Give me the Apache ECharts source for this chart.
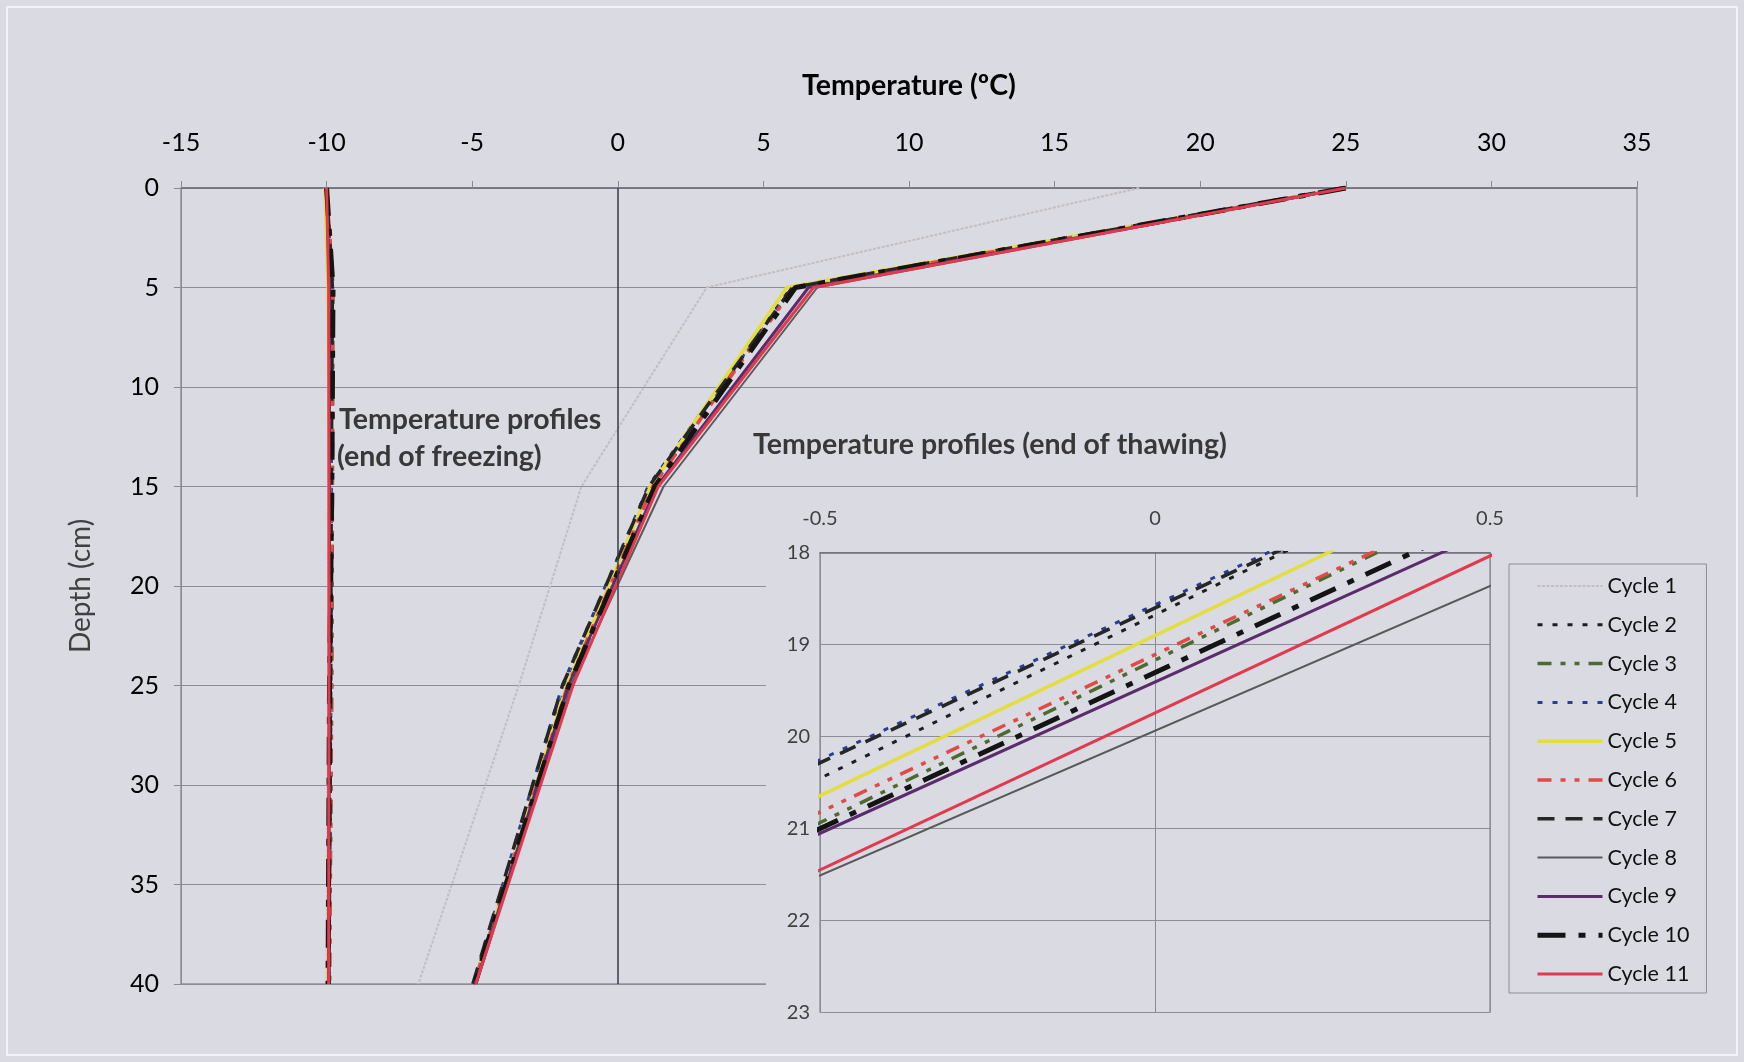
<!DOCTYPE html>
<html>
<head>
<meta charset="utf-8">
<script src="https://cdn.jsdelivr.net/npm/echarts@6/dist/echarts.min.js"></script>
<style>
  html, body { margin: 0; padding: 0; background: #dadae3; }
  #chart { width: 1744px; height: 1062px; }
</style>
</head>
<body>
<div id="chart"></div>
<script>
// Sensor depths (cm) shared by every profile
const depths = [0, 5, 15, 25, 40];

const cycleNames = ['Cycle 1', 'Cycle 2', 'Cycle 3', 'Cycle 4', 'Cycle 5', 'Cycle 6',
                    'Cycle 7', 'Cycle 8', 'Cycle 9', 'Cycle 10', 'Cycle 11'];

// Temperature (ºC) at each depth, end of thawing
const thaw1  = [17.9, 3.05, -1.25, -3.40, -6.85];
const thaw2  = [25.0, 5.95, 1.036, -1.78, -4.95];
const thaw3  = [25.0, 6.00, 1.18, -1.65, -4.95];
const thaw4  = [25.0, 6.00, 1.06, -1.91, -4.97];
const thaw5  = [25.0, 5.80, 1.12, -1.75, -4.93];
const thaw6  = [25.0, 6.05, 1.20, -1.72, -4.93];
const thaw7  = [24.9, 6.00, 1.07, -1.90, -4.98];
const thaw8  = [25.0, 6.85, 1.57, -1.61, -4.85];
const thaw9  = [25.0, 6.55, 1.34, -1.70, -4.88];
const thaw10 = [25.0, 6.10, 1.27, -1.68, -4.92];
const thaw11 = [25.0, 6.72, 1.39, -1.54, -4.88];

// Temperature (ºC) at each depth, end of freezing
const freeze1  = [-10.00, -9.95, -9.95, -9.95, -10.00];
const freeze2  = [-10.00, -9.82, -9.85, -9.85, -9.92];
const freeze3  = [-10.00, -9.78, -9.80, -9.82, -9.90];
const freeze4  = [-10.00, -9.83, -9.84, -9.86, -9.93];
const freeze5  = [-10.05, -9.95, -9.90, -9.90, -9.95];
const freeze6  = [-10.00, -9.80, -9.82, -9.84, -9.90];
const freeze7  = [-10.00, -9.80, -9.84, -9.86, -9.92];
const freeze8  = [-10.00, -9.92, -9.92, -9.92, -9.95];
const freeze9  = [-10.00, -9.90, -9.90, -9.90, -9.93];
const freeze10 = [-10.00, -9.78, -9.82, -9.90, -9.95];
const freeze11 = [-10.00, -9.93, -9.92, -9.92, -9.93];

// Axis ranges and steps
const tempTicks = [-15, 35, 5];
const depthTicks = [0, 40, 5];
const zoomTempTicks = [-0.5, 0.5, 0.5];
const zoomDepthTicks = [18, 23, 1];

const thawProfiles = [thaw1, thaw2, thaw3, thaw4, thaw5, thaw6, thaw7, thaw8, thaw9, thaw10, thaw11];
const freezeProfiles = [freeze1, freeze2, freeze3, freeze4, freeze5, freeze6, freeze7, freeze8, freeze9, freeze10, freeze11];

// Line appearance per cycle
const cycleColors = ['#c4bebe', '#1e1e1e', '#4d6a30', '#2a3d94', '#e4dd3e', '#e24a48',
                     '#262626', '#5a5a5a', '#5c2b6c', '#141414', '#e13a4e'];
const cycleWidths = [2, 3, 3.5, 3, 3.5, 3.5, 3.5, 2, 3, 5, 3];
const cycleDashes = [[3, 1.5], [5, 10], [14, 9, 5, 9, 5, 9], [5, 10], 'solid',
                     [14, 9, 5, 9, 5, 9], [17, 11], 'solid', 'solid', [28, 13, 7, 13], 'solid'];

const BG = '#dadae3';
const FONT = 'Lato, "Open Sans", sans-serif';

const toPoints = (temps) => temps.map((t, i) => [t, depths[i]]);

const series = [];
cycleNames.forEach((name, i) => {
  const style = { color: cycleColors[i], width: cycleWidths[i], type: cycleDashes[i] };
  const base = {
    name, type: 'line', symbol: 'none', showSymbol: false, silent: true,
    color: cycleColors[i], lineStyle: style, z: 2 + i * 0.01
  };
  series.push(Object.assign({}, base, { xAxisIndex: 0, yAxisIndex: 0, data: toPoints(freezeProfiles[i]) }));
  const thaw = Object.assign({}, base, { xAxisIndex: 0, yAxisIndex: 0, data: toPoints(thawProfiles[i]) });
  if (i === 0) {
    // vertical line at 0 ºC
    thaw.markLine = {
      silent: true, symbol: 'none', label: { show: false },
      lineStyle: { color: '#3a3a48', width: 1.5, type: 'solid' },
      data: [{ xAxis: 0 }]
    };
  }
  series.push(thaw);
  series.push(Object.assign({}, base, {
    xAxisIndex: 1, yAxisIndex: 1, data: toPoints(thawProfiles[i]), z: 12 + i * 0.01, clip: true
  }));
});

const chart = echarts.init(document.getElementById('chart'), null, { renderer: 'canvas' });
chart.setOption({
  animation: false,
  backgroundColor: BG,
  textStyle: { fontFamily: FONT },
  grid: [
    { left: 181, top: 188, width: 1456, height: 796, show: true,
      borderColor: '#6c6c80', borderWidth: 1, backgroundColor: 'transparent' },
    { left: 820, top: 552.5, width: 670, height: 460, show: true,
      borderColor: '#70707c', borderWidth: 1, backgroundColor: 'transparent', z: 10 }
  ],
  xAxis: [
    {
      type: 'value', gridIndex: 0, position: 'top',
      min: tempTicks[0], max: tempTicks[1], interval: tempTicks[2],
      name: 'Temperature (ºC)', nameLocation: 'middle', nameGap: 88,
      nameTextStyle: { fontFamily: FONT, fontSize: 28.5, fontWeight: 'bold', color: '#000' },
      axisLine: { onZero: false, lineStyle: { color: '#6e6e78', width: 1.5 } },
      axisTick: { show: true, length: 7, lineStyle: { color: '#8a8a94' } },
      axisLabel: { fontFamily: FONT, fontSize: 25, color: '#000', margin: 33 },
      splitLine: { show: false }
    },
    {
      type: 'value', gridIndex: 1, position: 'top', z: 10,
      min: zoomTempTicks[0], max: zoomTempTicks[1], interval: zoomTempTicks[2],
      axisLine: { onZero: false, lineStyle: { color: '#6e6e78', width: 1.5 } },
      axisTick: { show: false },
      axisLabel: { fontFamily: FONT, fontSize: 20, color: '#404040', margin: 24 },
      splitLine: { show: true, lineStyle: { color: '#8e8e98', width: 1 } }
    }
  ],
  yAxis: [
    {
      type: 'value', gridIndex: 0, inverse: true,
      min: depthTicks[0], max: depthTicks[1], interval: depthTicks[2],
      name: 'Depth (cm)', nameLocation: 'middle', nameGap: 86, nameRotate: 90,
      nameTextStyle: { fontFamily: FONT, fontSize: 28, color: '#404040' },
      axisLine: { show: true, onZero: false, lineStyle: { color: '#8a8a94', width: 1 } },
      axisTick: { show: true, length: 7, lineStyle: { color: '#8a8a94' } },
      axisLabel: { fontFamily: FONT, fontSize: 25, color: '#000', margin: 22 },
      splitLine: { show: true, lineStyle: { color: '#8e8e98', width: 1 } }
    },
    {
      type: 'value', gridIndex: 1, inverse: true, z: 10,
      min: zoomDepthTicks[0], max: zoomDepthTicks[1], interval: zoomDepthTicks[2],
      axisLine: { show: true, onZero: true, lineStyle: { color: '#8a8a94', width: 1 } },
      axisTick: { show: false },
      axisLabel: { fontFamily: FONT, fontSize: 20, color: '#404040', margin: 10 },
      splitLine: { show: true, lineStyle: { color: '#8e8e98', width: 1 } }
    }
  ],
  legend: {
    orient: 'vertical', left: 1509, top: 564, z: 20,
    padding: [11, 17, 8, 26],
    itemWidth: 65, itemHeight: 16, itemGap: 16.8,
    selectedMode: false,
    borderColor: '#8e8e9c', borderWidth: 1, backgroundColor: BG,
    itemStyle: { opacity: 0, borderWidth: 0 },
    textStyle: { fontFamily: FONT, fontSize: 21.5, lineHeight: 22, color: '#111' },
    data: cycleNames.map((n, i) => ({
      name: n,
      itemStyle: { opacity: 0, borderWidth: 0 },
      lineStyle: { width: cycleWidths[i], type: cycleDashes[i], color: cycleColors[i], opacity: 1 }
    }))
  },
  graphic: [
    // panel behind the enlarged view
    { type: 'rect', z: 5, silent: true,
      shape: { x: 766, y: 497, width: 978, height: 565 },
      style: { fill: BG } },
    { type: 'rect', z: 30, silent: true,
      shape: { x: 7, y: 7, width: 1730, height: 1048 },
      style: { fill: 'none', stroke: '#f1f1f6', lineWidth: 2 } },
    { type: 'text', z: 30, silent: true, x: 339, y: 420,
      style: { text: 'Temperature profiles', fontFamily: FONT, fontSize: 28.5, fontWeight: 'bold',
               fill: '#383838', verticalAlign: 'middle', align: 'left' } },
    { type: 'text', z: 30, silent: true, x: 337, y: 457,
      style: { text: '(end of freezing)', fontFamily: FONT, fontSize: 28.5, fontWeight: 'bold',
               fill: '#383838', verticalAlign: 'middle', align: 'left' } },
    { type: 'text', z: 30, silent: true, x: 753, y: 445,
      style: { text: 'Temperature profiles (end of thawing)', fontFamily: FONT, fontSize: 28.5,
               fontWeight: 'bold', fill: '#383838', verticalAlign: 'middle', align: 'left' } }
  ],
  series
});
</script>
</body>
</html>
